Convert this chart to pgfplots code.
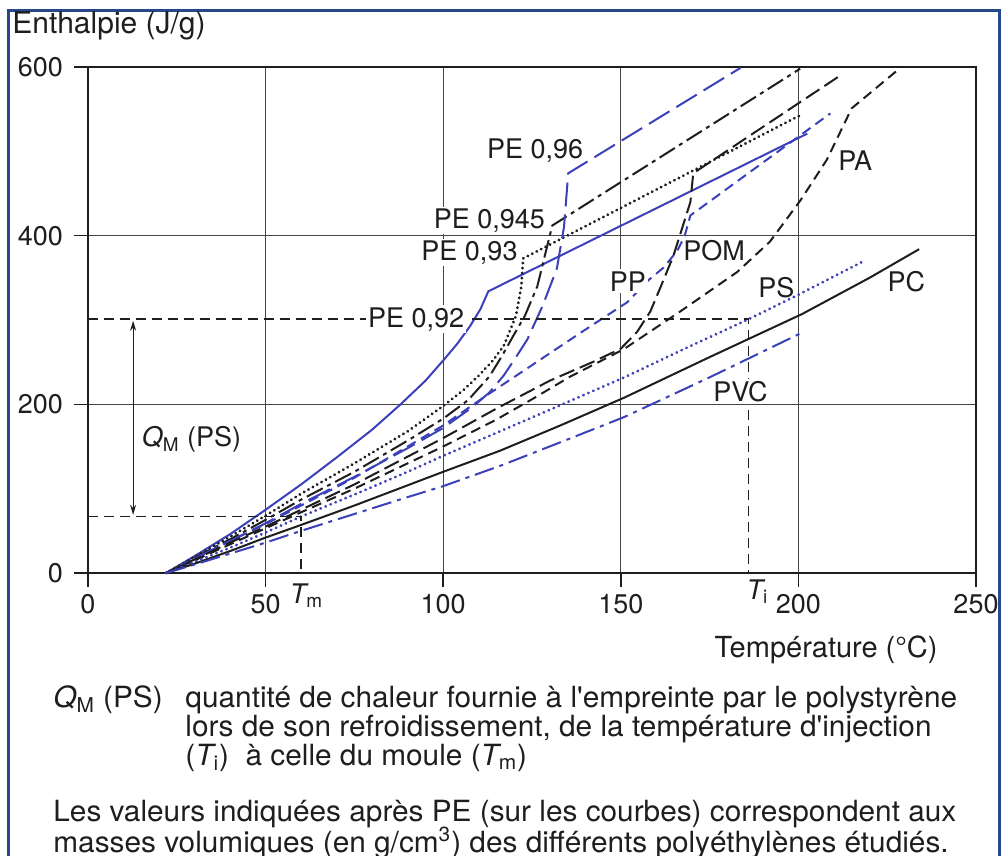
\documentclass[border=0pt]{standalone}
\usepackage{fontspec}
\setmainfont{TeX Gyre Heros}
\newfontfamily\capfont[FakeStretch=1.02]{TeX Gyre Heros}
\usepackage{pgfplots}
\pgfplotsset{compat=1.18}
\usetikzlibrary{arrows.meta}

\definecolor{cblue}{RGB}{60,64,185}
\definecolor{ink}{RGB}{30,30,30}
\definecolor{gridc}{RGB}{70,70,70}
\definecolor{frameblue}{RGB}{38,72,138}
\newcommand\lab{\fontsize{13.5bp}{16bp}\selectfont}
\newcommand\captxt{\capfont\fontsize{14.6bp}{17bp}\selectfont}
\tikzset{lbl/.style={font=\lab, text=ink, inner sep=1bp},
         cpt/.style={font=\captxt, text=ink, inner sep=0pt}}

\begin{document}
\begin{tikzpicture}
\useasboundingbox (0,0) rectangle (501bp,428bp);
\begin{axis}[
  at={(44bp,141.5bp)}, anchor=south west,
  scale only axis, width=444bp, height=253bp,
  xmin=0, xmax=250, ymin=0, ymax=600,
  xtick={0,50,100,150,200,250}, ytick={0,200,400,600},
  tick pos=left, tick align=outside, major tick length=7bp,
  grid=major, major grid style={gridc, line width=0.5bp},
  axis line style={ink, line width=1bp},
  tick style={ink, line width=0.8bp},
  ticklabel style={font=\lab, text=ink},
  yticklabel style={xshift=-2bp},
  /pgf/number format/assume math mode=true,
  clip=false,
  every axis plot/.append style={line width=1bp},
]
% PE 0,92
\addplot[cblue] coordinates {(22,0)(30,20)(40,46)(50,75)(60,105)(70,137)(80,170)(88,200)(95,228)(100,252)(104,272)(107.6,293)(110.5,313)(112.7,334)(202.5,521)};
% PE 0,93
\addplot[ink, line width=1.5bp, dash pattern=on 0.1bp off 2.4bp, line cap=round] coordinates {(22,0)(30,19)(40,43)(50,68)(60,94)(75,130)(90,168)(100,198)(106,218)(110,234)(114,252)(117,269)(120.5,305)(122,340)(122.5,373)(200.6,543)};
% PE 0,945
\addplot[ink, dash pattern=on 9bp off 2.5bp on 2bp off 2.5bp] coordinates {(22,0)(30,18)(40,40)(50,63)(60,87)(75,120)(90,157)(100,183)(107,205)(113,233)(116.5,257)(119.7,281)(123,305)(126.5,340)(130,400)(130.7,412)(200.5,598)};
% PE 0,96
\addplot[cblue, dash pattern=on 12bp off 4bp] coordinates {(22,0)(30,17)(40,38)(50,59)(60,82)(75,114)(90,148)(100,172)(108,196)(113,214)(117,234)(120.5,256)(123.7,277)(128,317)(132,361)(134,410)(135.2,474)(183.7,599)};
% PP
\addplot[cblue, dash pattern=on 5bp off 3bp] coordinates {(22,0)(30,17)(40,38)(50,58)(60,80)(75,113)(90,150)(100,175)(112,210)(124.5,245)(138,283)(151.8,321)(158,348)(162,362)(165.9,382)(168,400)(169.6,424)(209,545)};
% POM
\addplot[ink, dash pattern=on 8bp off 3bp] coordinates {(22,0)(30,16)(40,36)(50,55)(60,75)(75,105)(90,138)(100,160)(115,195)(130,228)(142,250)(150,266)(154.6,286)(158.3,310)(161,337)(164.8,376)(169.6,440)(170.4,474)(211.8,590)};
% PA
\addplot[ink, dash pattern=on 5bp off 3bp] coordinates {(22,0)(30,15)(40,34)(50,53)(60,72)(75,100)(90,130)(100,150)(115,182)(125,206)(135.8,233)(150.7,265)(166,308)(182.8,357)(192,393)(200.6,442)(208,490)(215,551)(228.7,599)};
% PS
\addplot[cblue, line width=1.5bp, dash pattern=on 0.1bp off 2.6bp, line cap=round] coordinates {(22,0)(30,13)(40,30)(50,48)(60,67)(75,93)(90,120)(100,139)(116,168)(133,199)(151,232)(168,266)(186,301)(200,330)(218,369)};
% PC
\addplot[ink] coordinates {(22,0)(30,11)(40,26)(50,42)(60,57)(75,80)(90,104)(100,120)(116,145)(133,175)(151,208)(175,256)(201,307)(220,350)(234,384)};
% PVC
\addplot[cblue, dash pattern=on 10bp off 3bp on 2bp off 3bp] coordinates {(22,0)(30,10)(40,23)(50,36)(60,50)(75,70)(90,90)(100,103)(116,127)(133,155)(151,185)(175,232)(201,285)};

% Q_M (PS) construction
\draw[ink, line width=0.7bp, dash pattern=on 5bp off 3bp] (axis cs:0,301) -- (axis cs:186,301) -- (axis cs:186,0);
\draw[ink, line width=0.7bp, dash pattern=on 5bp off 3bp] (axis cs:0,67) -- (axis cs:60,67) -- (axis cs:60,0);
\draw[ink, line width=0.6bp, {Stealth[length=5bp,width=3bp]}-{Stealth[length=5bp,width=3bp]}] (axis cs:12.7,299) -- (axis cs:12.7,69);
\node[lbl, anchor=west] at (axis cs:14.5,158) {{\itshape Q}\textsubscript{M} (PS)};

% curve labels
\node[lbl] at (axis cs:125.9,501) {PE 0,96};
\node[lbl, fill=white] at (axis cs:113,418) {PE 0,945};
\node[lbl, fill=white] at (axis cs:107.4,380) {PE 0,93};
\node[lbl, fill=white] at (axis cs:92.4,301) {PE 0,92};
\node[lbl, fill=white] at (axis cs:152,346) {PP};
\node[lbl] at (axis cs:176.3,382) {POM};
\node[lbl] at (axis cs:216,489) {PA};
\node[lbl] at (axis cs:193.8,338) {PS};
\node[lbl] at (axis cs:230.4,345) {PC};
\node[lbl, fill=white] at (axis cs:183.7,215) {PVC};
\node[lbl] at (axis cs:61.5,-27) {{\itshape T}\textsubscript{m}};
\node[lbl] at (axis cs:188.5,-22) {{\itshape T}\textsubscript{i}};
\end{axis}

\begin{scope}[x=0.5bp, y=-0.5bp, yshift=428bp]
\draw[frameblue, line width=1.5bp] (9,860) -- (9,11) -- (1000,11) -- (1000,860);
\node[lbl, font=\fontsize{15bp}{18bp}\selectfont, anchor=west, inner sep=0pt] at (12,26) {Enthalpie (J/g)};
\node[lbl, font=\fontsize{14.5bp}{17bp}\selectfont, anchor=east, inner sep=0pt] at (938,650) {Température (°C)};
\node[cpt, anchor=west] at (53,700) {{\itshape Q}\textsubscript{M} (PS)};
\node[cpt, anchor=west] at (185,700) {quantité de chaleur fournie à l'empreinte par le polystyrène};
\node[cpt, anchor=west] at (185,729) {lors de son refroidissement, de la température d'injection};
\node[cpt, anchor=west] at (185,758) {({\itshape T}\textsubscript{i})\ \ à celle du moule ({\itshape T}\textsubscript{m})};
\node[cpt, anchor=west] at (53,814) {Les valeurs indiquées après PE (sur les courbes) correspondent aux};
\node[cpt, anchor=west] at (53,843) {masses volumiques (en g/cm\textsuperscript{3}) des différents polyéthylènes étudiés.};
\end{scope}
\end{tikzpicture}
\end{document}
